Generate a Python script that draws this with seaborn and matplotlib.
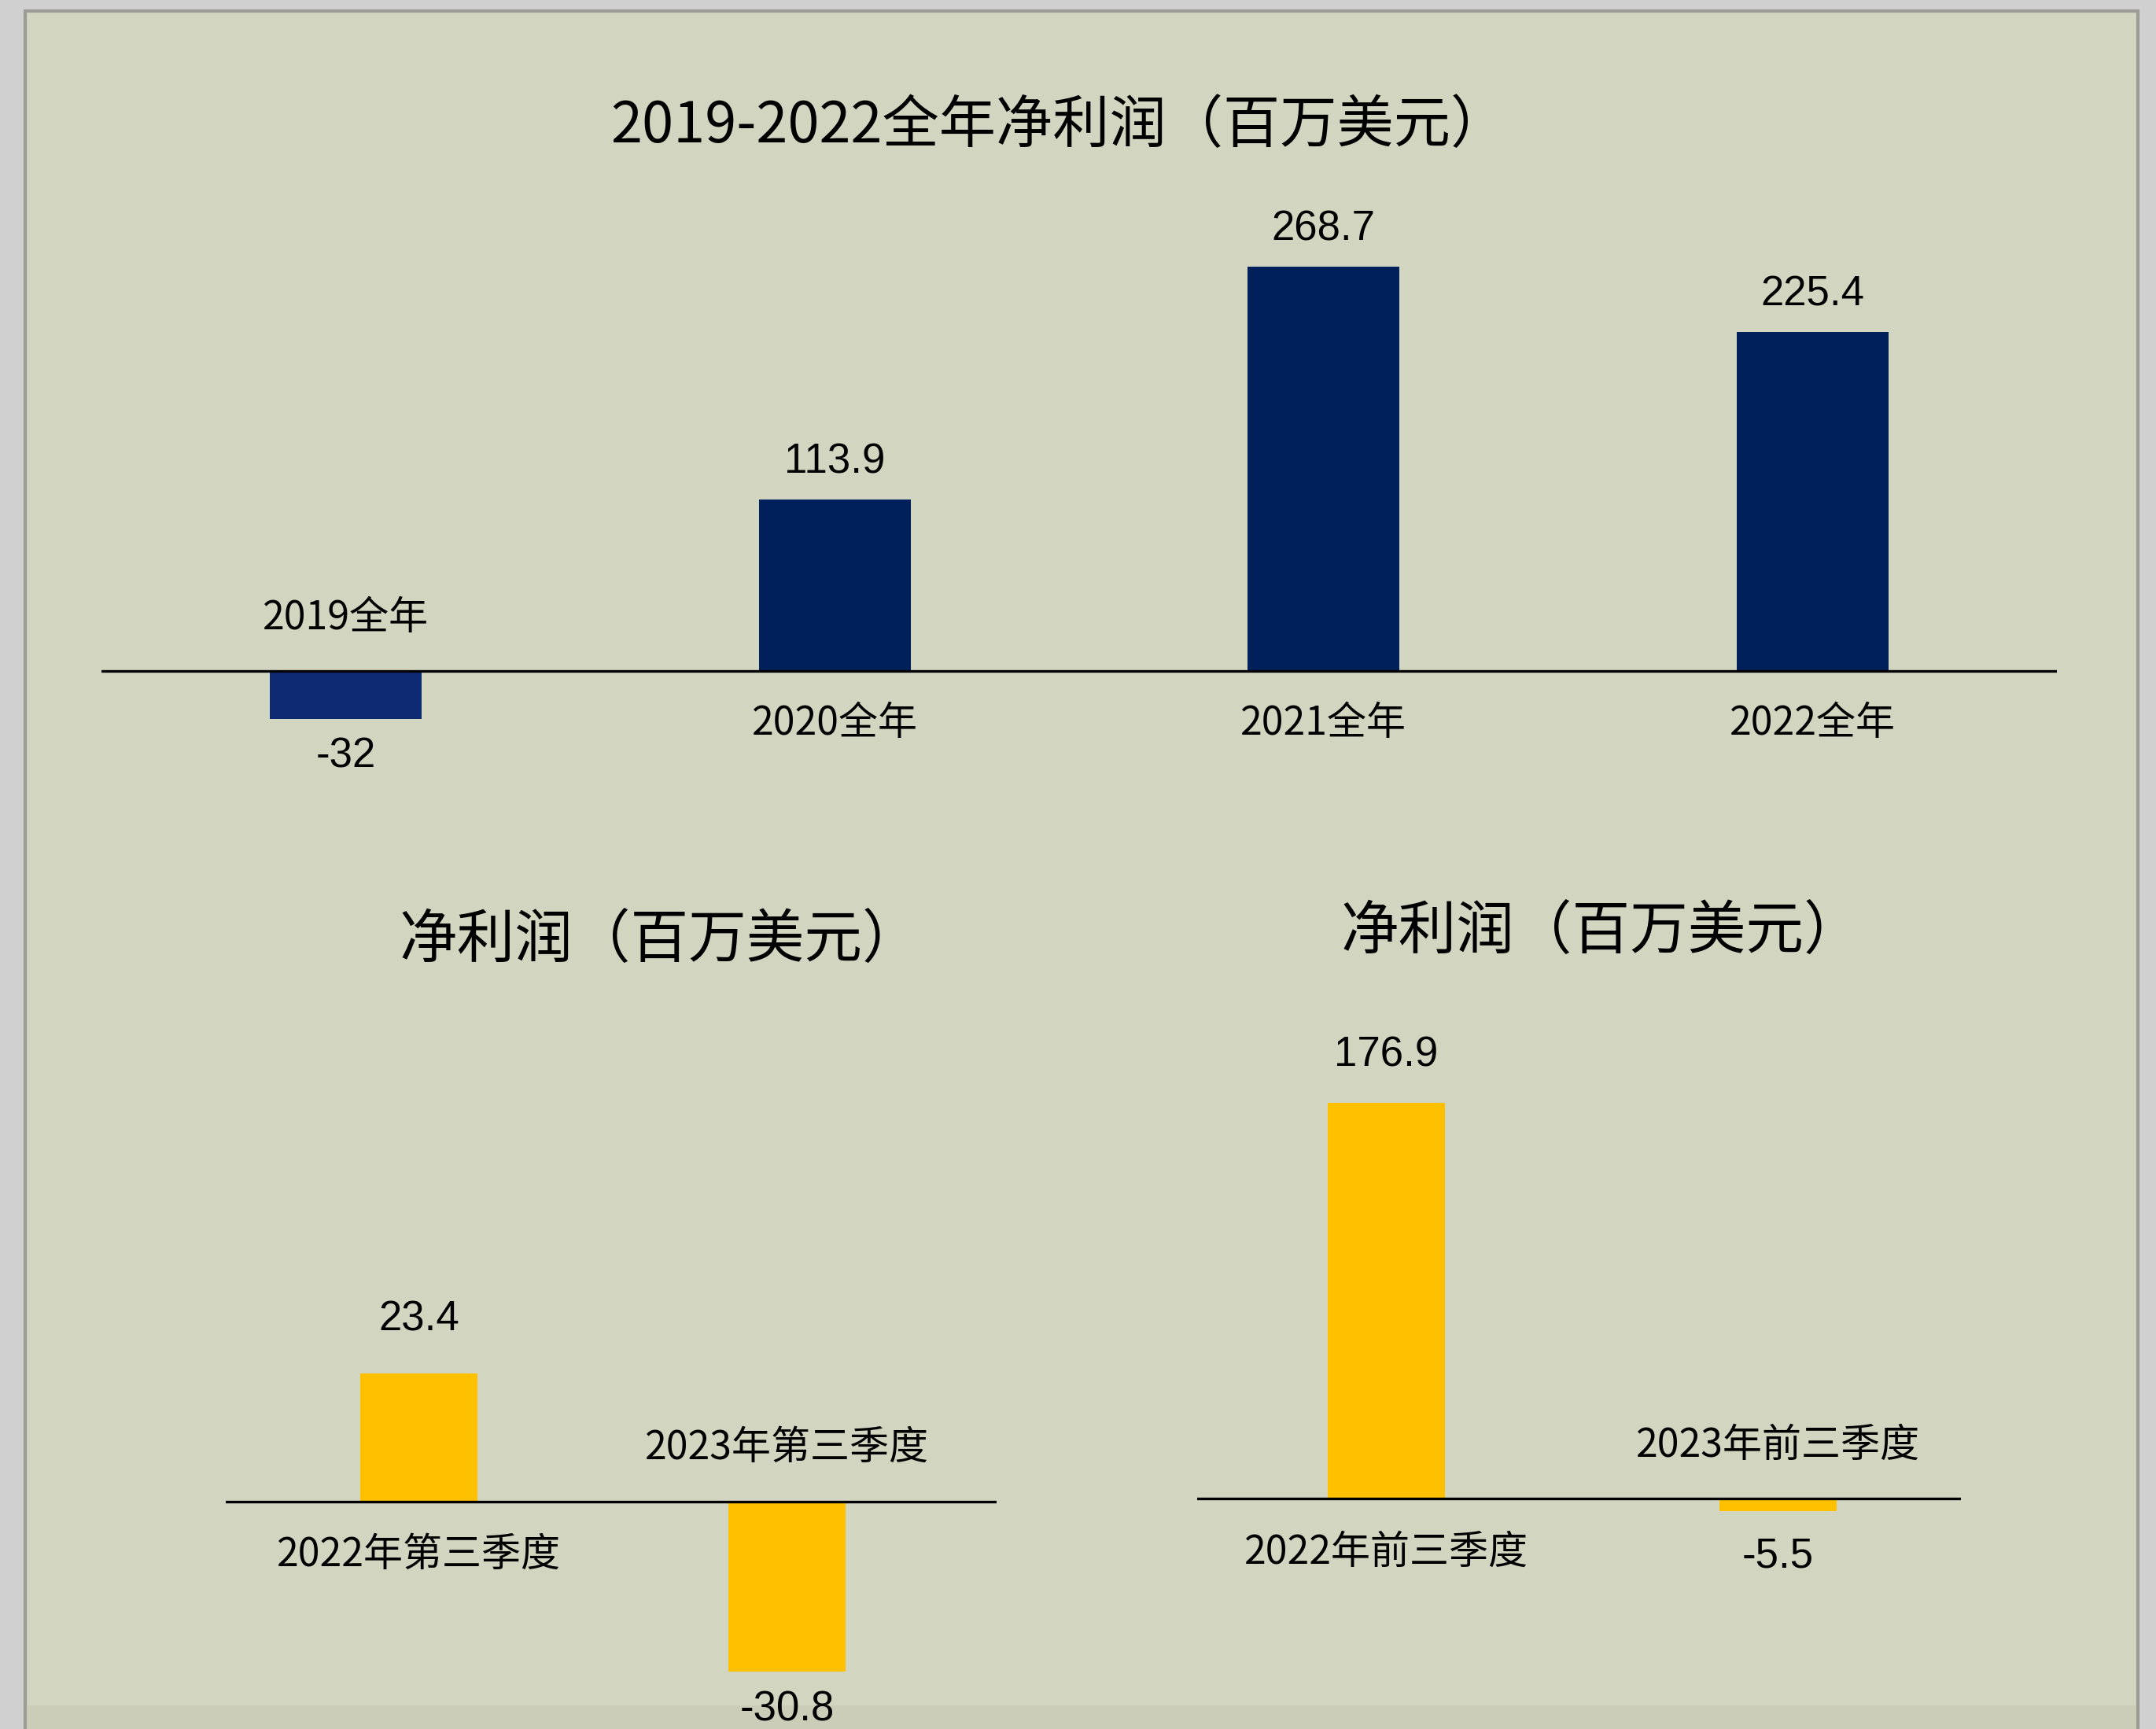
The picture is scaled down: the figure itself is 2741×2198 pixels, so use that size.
import matplotlib
matplotlib.use("Agg")
import matplotlib.pyplot as plt
import seaborn as sns
from matplotlib.patches import Rectangle

# data
year_labels = ["2019全年", "2020全年", "2021全年", "2022全年"]
year_profit = [-32, 113.9, 268.7, 225.4]

q3_labels = ["2022年第三季度", "2023年第三季度"]
q3_profit = [23.4, -30.8]

first3_labels = ["2022年前三季度", "2023年前三季度"]
first3_profit = [176.9, -5.5]

title_top = "2019-2022全年净利润（百万美元）"
title_small = "净利润（百万美元）"

NAVY = "#00205C"
NAVY_NEG = "#0D2A72"
GOLD = "#FFC000"
PANEL = "#D2D5C0"

sns.set_theme(style="white")
plt.rcParams['font.family'] = ['Noto Sans CJK SC', 'DejaVu Sans']
plt.rcParams['text.color'] = 'black'

W, H = 2741, 2198
fig = plt.figure(figsize=(W / 100, H / 100), dpi=100)
fig.patch.set_facecolor("#D0D0D0")

# slide panel behind the charts
fig.patches.append(Rectangle((32 / W, -0.01), (2718 - 32) / W, 1 - 14 / H + 0.01,
                             transform=fig.transFigure, facecolor=PANEL,
                             edgecolor="#9C9C94", linewidth=3, zorder=-10))
fig.patches.append(Rectangle((34 / W, 0), (2716 - 34) / W, 30 / H,
                             transform=fig.transFigure, facecolor="#CBCDB8",
                             edgecolor="none", zorder=-9))


def px_axes(x0, x1, y0, y1):
    # pixel box (top-left origin) -> figure axes
    return fig.add_axes([x0 / W, 1 - y1 / H, (x1 - x0) / W, (y1 - y0) / H])


def draw_bars(ax, labels, values, colors, width, xlim, ylim,
              val_off_pos, val_off_neg, cat_off):
    sns.barplot(x=labels, y=values, hue=labels, palette=colors, legend=False,
                width=width, saturation=1, linewidth=0, ax=ax)
    ax.set_xlim(*xlim)
    ax.set_ylim(*ylim)
    ax.axhline(0, color="black", lw=2.4, zorder=5)
    ax.set_axis_off()
    ax.patch.set_alpha(0)
    for i, (lab, v) in enumerate(zip(labels, values)):
        if v >= 0:
            ax.annotate(f"{v:g}", (i, v), xytext=(0, val_off_pos),
                        textcoords="offset points", ha="center", va="center",
                        fontsize=38, family="Liberation Sans", color="black")
            ax.annotate(lab, (i, 0), xytext=(0, -cat_off),
                        textcoords="offset points", ha="center", va="center",
                        fontsize=36, color="black")
        else:
            ax.annotate(f"{v:g}", (i, v), xytext=(0, -val_off_neg),
                        textcoords="offset points", ha="center", va="center",
                        fontsize=38, family="Liberation Sans", color="black")
            ax.annotate(lab, (i, 0), xytext=(0, cat_off),
                        textcoords="offset points", ha="center", va="center",
                        fontsize=36, color="black")


# top: yearly
ax1 = px_axes(129, 2615, 210, 1084)
draw_bars(ax1, year_labels, year_profit, [NAVY_NEG, NAVY, NAVY, NAVY], 0.31,
          (-0.5, 3.5), (-120.7, 336), 34, 34, 48)

# bottom left: Q3
ax2 = px_axes(287, 1267, 1300, 2198)
draw_bars(ax2, q3_labels, q3_profit, [GOLD, GOLD], 0.317,
          (-0.524, 1.569), (-41.3, 87.1), 49, 35, 49)

# bottom right: first three quarters
ax3 = px_axes(1522, 2493, 1300, 2198)
draw_bars(ax3, first3_labels, first3_profit, [GOLD, GOLD], 0.30,
          (-0.483, 1.4675), (-102.8, 212.8), 44, 41, 49)

fig.text(1346 / W, 1 - 161 / H, title_top, ha="center", va="center",
         fontsize=52, color="black")
fig.text(839 / W, 1 - 1196 / H, title_small, ha="center", va="center",
         fontsize=53, color="black")
fig.text(2036 / W, 1 - 1185 / H, title_small, ha="center", va="center",
         fontsize=53, color="black")

fig.savefig("out.png", dpi=100, facecolor=fig.get_facecolor())
